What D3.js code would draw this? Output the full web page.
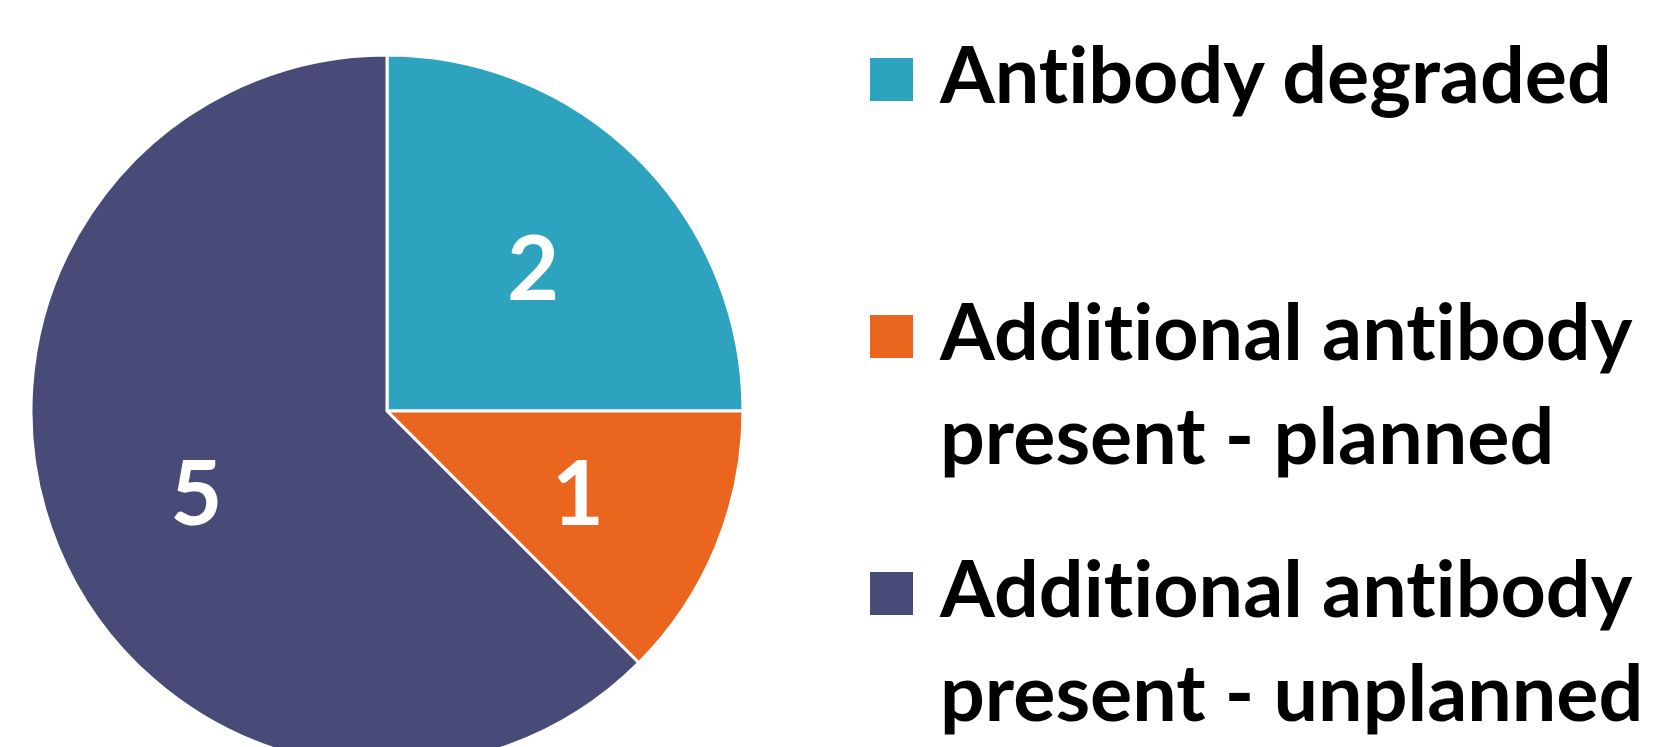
<!DOCTYPE html>
<html>
<head>
<meta charset="utf-8">
<script src="https://cdn.jsdelivr.net/npm/d3@7"></script>
<style>
  html, body { margin: 0; padding: 0; background: #ffffff; }
  svg { display: block; }
  text { font-variant-ligatures: none; font-feature-settings: "liga" 0, "clig" 0; }
</style>
</head>
<body>
<svg id="chart" width="1660" height="747"></svg>
<script>
// ---- data ----
const categories = ["Antibody degraded", "Additional antibody\npresent - planned", "Additional antibody\npresent - unplanned"];
const values = [2, 1, 5];
const colors = ["#2EA3C0", "#EA661F", "#484B77"];

// ---- layout ----
const W = 1660, H = 747;
const cx = 387, cy = 411, R = 356;
const FONT = "Lato, 'Open Sans', sans-serif";

const svg = d3.select("#chart");
svg.append("rect").attr("width", W).attr("height", H).attr("fill", "#fff");

const pie = d3.pie().sort(null).value(d => d.value);
const arcs = pie(categories.map((c, i) => ({ name: c, value: values[i], color: colors[i] })));
const arc = d3.arc().innerRadius(0).outerRadius(R);
const labelArc = d3.arc().innerRadius(R * 0.58).outerRadius(R * 0.58);

const g = svg.append("g").attr("transform", `translate(${cx},${cy})`);
g.selectAll("path.slice").data(arcs).join("path")
  .attr("class", "slice")
  .attr("d", arc)
  .attr("fill", d => d.data.color)
  .attr("stroke", "#ffffff")
  .attr("stroke-width", 3)
  .attr("stroke-linejoin", "round");

g.selectAll("text.lbl").data(arcs).join("text")
  .attr("class", "lbl")
  .attr("transform", d => `translate(${labelArc.centroid(d)})`)
  .attr("text-anchor", "middle")
  .attr("dominant-baseline", "central")
  .attr("font-family", FONT)
  .attr("font-weight", 700)
  .attr("font-size", 90)
  .attr("fill", "#ffffff")
  .text(d => d.data.value);

// ---- legend ----
const legendX = 870, legendTop = 58, itemStep = 257, sw = 43, textX = 940, lineH = 104;
const legendScale = d3.scaleLinear().domain([0, 1]).range([legendTop, legendTop + itemStep]);

const lg = svg.append("g");
const items = lg.selectAll("g.item").data(categories).join("g")
  .attr("class", "item")
  .attr("transform", (d, i) => `translate(0,${legendScale(i)})`);

items.append("rect")
  .attr("x", legendX).attr("y", 0)
  .attr("width", sw).attr("height", sw)
  .attr("fill", (d, i) => colors[i]);

const txt = items.append("text")
  .attr("font-family", FONT)
  .attr("font-weight", 700)
  .attr("font-size", 79)
  .attr("fill", "#000000");

txt.selectAll("tspan").data(d => d.split("\n")).join("tspan")
  .attr("x", textX)
  .attr("y", (d, j) => 45 + j * lineH)
  .text(d => d);
</script>
</body>
</html>
